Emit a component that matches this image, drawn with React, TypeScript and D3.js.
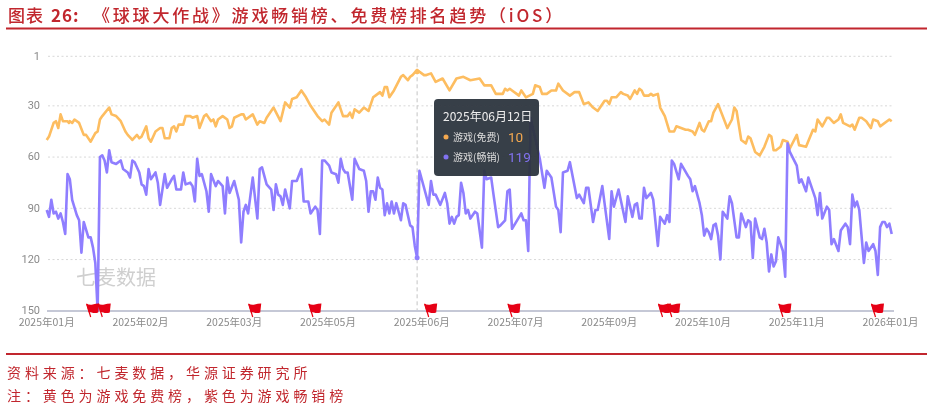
import React from "react";
import * as d3 from "d3";

const W = 933, H = 410;
const tickLabels = ["2025年01月","2025年02月","2025年03月","2025年05月","2025年06月","2025年07月","2025年09月","2025年10月","2025年11月","2026年01月"];
const tickDays = [0,40.5,81,121.5,162,202.5,243,283.5,324,364.5];
const rankTicks = [1,30,60,90,120,150];

const freeDays = [0,1,3,4,5,6,7,9,9.6,10,11,12,14,16,17,19,21,22,23,24,27,28,30,32,34,35,37,39,40,41,43,44,45,47,49,50,51,53,54,55,56,57,59,60,62,63,65,66,68,69,71,72,73,74,76,78,79,80,81,84,85,86,89,91,92,94,95,98,101,103,105,106,108,110,112,114,117,119,120,122,123,126,128,130,131,132,133,135,137,139,141,142,144,145,146,147,148,150,153,154,156,157,158,160,163,164,166,168,171,174,177,180,183,187,189,192,194,197,198,199,200,201,203,204,205,207,210,211,213,214,216,218,220,221,223,226,228,230,232,234,236,238,241,242,243,244,246,248,249,251,252,254,255,256,257,258,260,261,262,264,265,267,269,271,272,274,276,277,279,280,282,283,284,286,287,288,290,294,296,297,298,300,302,303,304,306,308,310,312,313,314,315,317,318,320,321,324,325,328,331,332,333,335,337,338,340,342,343,344,347,348,349,351,352,354,356,357,359,360,364,365];
const freeRanks = [50,48,40,39,43,35,39,39,40,39,40,38,40,47,47,51,46,45,38,36,31,35,36,39,45,47,50,47,49,48,42,49,51,45,43,43,49,49,43,42,45,41,41,36,36,37,36,43,36,35,39,38,42,38,36,38,43,42,37,35,35,38,35,41,39,40,37,31,39,28,31,26,25,21,25,30,36,39,38,41,34,28,36,36,34,37,32,34,31,33,25,24,22,24,19,19,25,21,13,12,15,13,12,9,12,12,11,16,14,21,14,13,15,14,18,18,23,23,20,21,20,21,23,24,21,25,23,18,19,23,23,21,21,17,21,24,22,22,29,28,31,33,27,27,29,25,25,22,23,24,26,21,23,20,21,24,24,23,24,23,31,36,45,45,42,43,44,44,45,47,40,44,45,39,39,34,29,43,38,31,33,50,52,48,49,57,59,54,47,48,56,56,54,50,51,55,47,53,54,44,45,38,42,37,37,40,38,35,40,42,41,44,37,37,39,43,38,39,42,38,39];

const paidDays = [0,1,2,3,4,5,6,7,8,9,10,11,13,14,15,16,18,19,20,21,22,23,24,25,26,27,28,30,32,33,35,36,37,38,40,41,42,43,44,45,47,48,49,51,52,54,55,56,58,59,60,62,63,64,65,66,67,69,70,71,73,74,76,77,78,79,81,83,84,85,86,87,89,91,92,93,95,97,98,99,100,101,102,103,105,106,107,108,110,111,113,114,116,117,118,119,120,122,123,125,126,127,128,129,130,132,133,135,137,138,139,140,141,142,143,144,145,146,147,148,149,150,151,153,154,155,157,158,159,160,161,162,165,166,167,168,170,172,173,174,175,176,177,178,179,180,181,182,183,185,186,188,189,190,192,193,195,196,198,199,200,201,205,206,207,208,209,213,215,216,218,220,221,222,223,225,226,229,230,232,233,234,236,237,238,240,243,244,245,247,250,251,253,254,255,256,257,258,259,261,262,264,265,267,268,269,270,271,273,274,277,278,279,280,282,283,284,285,286,287,288,289,290,291,292,294,295,296,298,299,300,302,303,304,305,306,308,309,310,311,312,313,314,315,316,317,318,319,320,321,324,325,326,328,329,332,333,334,335,337,338,339,340,342,343,345,346,347,348,349,350,351,353,354,355,357,358,359,360,361,362,363,364,365];
const paidRanks = [91,95,85,93,92,96,93,98,105,70,73,85,94,97,116,98,107,107,113,122,150,60,59,62,69,56,63,64,62,67,69,72,62,63,69,76,77,82,67,73,69,75,88,70,78,73,71,79,79,69,76,75,77,86,61,71,70,80,92,70,77,74,77,93,72,81,74,85,110,92,88,93,72,96,67,66,76,79,91,76,82,83,88,79,90,74,74,74,67,86,86,93,89,91,105,62,62,65,69,70,75,61,67,69,69,85,61,67,68,74,92,80,80,85,72,78,79,94,87,93,86,93,87,97,87,88,100,101,112,119,68,73,88,74,82,82,88,81,87,99,95,99,95,94,75,81,93,91,96,92,93,113,68,73,72,82,101,100,97,80,79,102,93,97,97,115,37,61,78,68,72,89,91,104,69,68,63,84,82,87,78,78,98,91,91,77,108,80,89,79,98,83,95,88,87,96,96,78,84,81,85,112,95,99,94,98,62,64,73,64,71,73,80,77,87,94,106,102,104,108,100,99,106,120,92,96,83,87,107,107,93,101,97,98,119,96,107,108,102,110,127,117,124,121,107,111,115,130,52,57,65,75,73,80,72,84,94,81,96,89,91,111,108,115,103,99,101,111,82,89,86,91,122,110,115,111,115,129,101,98,98,101,99,105];

const flagDays = [19,24,89,115,165,201,266,270,318,358];
const hoverDay = 160;
const hoverDate = "2025年06月12日";
const hoverFree = 10;
const hoverPaid = 119;

const RED = "#c1272d";
const CJK = '"Noto Sans CJK SC", "Noto Sans", sans-serif';

export default function App() {
  const x = d3.scaleLinear().domain([0, 365]).range([46.7, 891.7]);
  const y = d3.scaleLinear().domain([1, 150]).range([56.3, 310.8]);
  const line = d3.line<[number, number]>().x(d => x(d[0])).y(d => y(d[1])).curve(d3.curveLinear);
  const free = line(freeDays.map((d, i) => [d, freeRanks[i]] as [number, number])) || "";
  const paid = line(paidDays.map((d, i) => [d, paidRanks[i]] as [number, number])) || "";
  const hx = x(hoverDay);
  return (
    <svg width={W} height={H} viewBox={`0 0 ${W} ${H}`} style={{ position: "absolute", left: 0, top: 0, background: "#fff" }}>
      <defs>
        <filter id="soft" x="-5%" y="-5%" width="110%" height="110%"><feGaussianBlur stdDeviation="0.35" /></filter>
      </defs>
      <g filter="url(#soft)">
        <text y={22} fontFamily={CJK} fontSize={17} fill={RED} fontWeight={500} letterSpacing={2.8}>
          <tspan x={8} letterSpacing={1}>图表</tspan>
          <tspan x={51} fontWeight={700} letterSpacing={1}>26:</tspan>
          <tspan x={93}>《球球大作战》游戏畅销榜、免费榜排名趋势（iOS）</tspan>
        </text>
        <line x1={6} x2={927} y1={28.5} y2={28.5} stroke={RED} strokeWidth={2} />
        <text x={76} y={285} fontFamily={CJK} fontSize={20} fill="#cfcfcf">七麦数据</text>
        {rankTicks.map(r => (
          <g key={r}>
            {r !== 150 && <line x1={48} x2={894} y1={y(r)} y2={y(r)} stroke="#d8d8d8" strokeWidth={1} strokeDasharray="2 2.5" />}
            <text x={40} y={y(r) + 3.2} textAnchor="end" fontFamily="Roboto, sans-serif" fontSize={11} fill="#8a8a8a">{r}</text>
          </g>
        ))}
        <line x1={hx} x2={hx} y1={y(1)} y2={y(150)} stroke="#c4c4c4" strokeWidth={1} strokeDasharray="4 3" />
        <line x1={47} x2={894} y1={311} y2={311} stroke="#c5c8d6" strokeWidth={2} />
        {tickDays.map((d, i) => (
          <text key={i} x={x(d)} y={326} textAnchor="middle" fontFamily={CJK} fontSize={10.5} fill="#8a8a8a">{tickLabels[i]}</text>
        ))}
        <path d={free} fill="none" stroke="#fdbd60" strokeWidth={2.6} strokeLinejoin="round" />
        <path d={paid} fill="none" stroke="#8f7eff" strokeWidth={2.6} strokeLinejoin="round" />
        <circle cx={hx} cy={y(hoverFree)} r={2.5} fill="#fdbd60" />
        <circle cx={hx} cy={y(hoverPaid)} r={2.5} fill="#8f7eff" />
        {flagDays.map((d, i) => {
          const fx = x(d);
          return (
            <g key={i} transform={`translate(${fx},317)`}>
              <path d="M0 0 L-4 -13" stroke="#e60012" strokeWidth={1.2} fill="none" />
              <path d="M-4.5 -13.5 Q-1 -11.5 2 -12.5 T8.5 -13.5 L7.5 -4.5 Q4 -3.5 1 -4.5 T-2 -4.5 Z" fill="#e60012" />
            </g>
          );
        })}
        <rect x={434} y={99} width={105} height={77} rx={4} fill="#2a323b" fillOpacity={0.93} />
        <text x={443} y={121} fontFamily={CJK} fontSize={12} fill="#eeeeee">{hoverDate}</text>
        <circle cx={446} cy={137} r={2.5} fill="#f5a94f" />
        <text x={453} y={141} fontFamily={CJK} fontSize={10} fill="#dddddd">游戏(免费)</text>
        <text x={508} y={142} fontFamily="Roboto, sans-serif" fontSize={13.5} fill="#f5a94f">{hoverFree}</text>
        <circle cx={446} cy={157} r={2.5} fill="#8172f0" />
        <text x={453} y={161} fontFamily={CJK} fontSize={10} fill="#dddddd">游戏(畅销)</text>
        <text x={508} y={162} fontFamily="Roboto, sans-serif" fontSize={13.5} fill="#8172f0">{hoverPaid}</text>
        <line x1={6} x2={927} y1={354} y2={354} stroke={RED} strokeWidth={2} />
        <text x={7} y={378} fontFamily={CJK} fontSize={14} fill={RED} letterSpacing={3.9}>资料来源：七麦数据，华源证券研究所</text>
        <text x={7} y={401} fontFamily={CJK} fontSize={14} fill={RED} letterSpacing={3.9}>注：黄色为游戏免费榜，紫色为游戏畅销榜</text>
      </g>
    </svg>
  );
}
